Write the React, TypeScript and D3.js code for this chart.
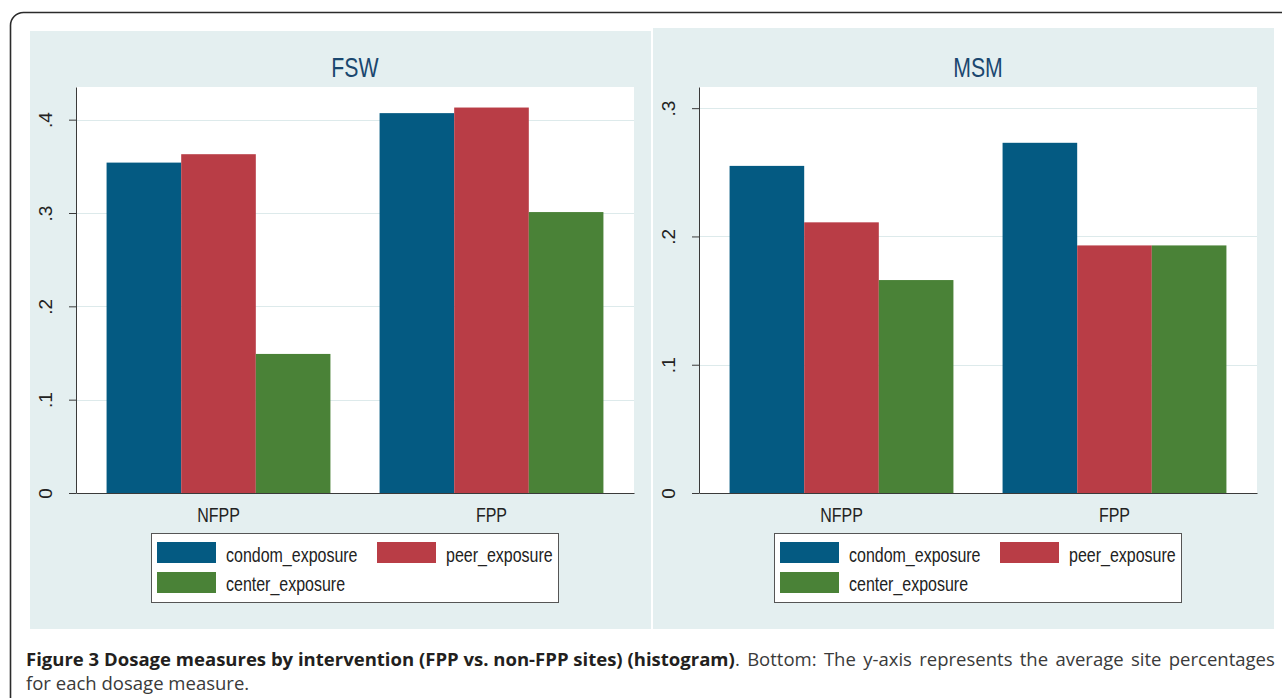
import React, { useEffect, useRef } from "react";
import * as d3 from "d3";

const groups = ["NFPP", "FPP"];
const seriesNames = ["condom_exposure", "peer_exposure", "center_exposure"];
const seriesColors = ["#045a82", "#b93d46", "#4a8237"];

// values (share of sites)
const fswCondom = [0.354, 0.407];
const fswPeer = [0.363, 0.413];
const fswCenter = [0.149, 0.301];
const msmCondom = [0.255, 0.273];
const msmPeer = [0.211, 0.193];
const msmCenter = [0.166, 0.193];

const fswTicks = [0, 0.1, 0.2, 0.3, 0.4];
const fswTickLabels = ["0", ".1", ".2", ".3", ".4"];
const msmTicks = [0, 0.1, 0.2, 0.3];
const msmTickLabels = ["0", ".1", ".2", ".3"];

const captionBold =
  "Figure 3 Dosage measures by intervention (FPP vs. non-FPP sites) (histogram)";
const captionRest =
  ". Bottom: The y-axis represents the average site percentages";
const captionLine2 = "for each dosage measure.";

interface IPanel {
  title: string;
  values: number[][];
  ticks: number[];
  tickLabels: string[];
  yMax: number;
  bg: [number, number, number, number];
  plot: [number, number, number, number];
}

const panels: IPanel[] = [
  {
    title: "FSW",
    values: [fswCondom, fswPeer, fswCenter],
    ticks: fswTicks,
    tickLabels: fswTickLabels,
    yMax: 0.435,
    bg: [30, 31, 651, 629],
    plot: [76, 87, 634, 493],
  },
  {
    title: "MSM",
    values: [msmCondom, msmPeer, msmCenter],
    ticks: msmTicks,
    tickLabels: msmTickLabels,
    yMax: 0.3165,
    bg: [653, 28, 1274, 629],
    plot: [699, 87, 1257, 493],
  },
];

const FONT = "'Liberation Sans', Arial, sans-serif";
const NARROW = 0.78;
const LABEL_SIZE = 20.5;

function App() {
  const ref = useRef<SVGSVGElement | null>(null);

  useEffect(() => {
    const svg = d3.select(ref.current);
    svg.selectAll("*").remove();

    // outer frame, runs off the right and bottom edges
    svg
      .append("rect")
      .attr("x", 10.5)
      .attr("y", 12.5)
      .attr("width", 1400)
      .attr("height", 800)
      .attr("rx", 13)
      .attr("fill", "white")
      .attr("stroke", "#2b2b2b")
      .attr("stroke-width", 1.6);

    panels.forEach((p) => {
      const [bx0, by0, bx1, by1] = p.bg;
      const [pl, pt, pr, pb] = p.plot;
      const g = svg.append("g");

      g.append("rect")
        .attr("x", bx0)
        .attr("y", by0)
        .attr("width", bx1 - bx0)
        .attr("height", by1 - by0)
        .attr("fill", "#e4eff0");

      g.append("rect")
        .attr("x", pl)
        .attr("y", pt)
        .attr("width", pr - pl)
        .attr("height", pb - pt)
        .attr("fill", "white");

      const x0 = d3
        .scaleBand()
        .domain(groups)
        .range([pl, pr])
        .paddingInner(0.18)
        .paddingOuter(0.112);
      const x1 = d3
        .scaleBand()
        .domain(seriesNames)
        .range([0, x0.bandwidth()]);
      const y = d3.scaleLinear().domain([0, p.yMax]).range([pb, pt]);

      // grid
      p.ticks
        .filter((t) => t > 0)
        .forEach((t) =>
          g
            .append("line")
            .attr("x1", pl)
            .attr("x2", pr)
            .attr("y1", Math.round(y(t)) + 0.5)
            .attr("y2", Math.round(y(t)) + 0.5)
            .attr("stroke", "#ddeaeb")
            .attr("stroke-width", 1.2)
        );

      // bars
      seriesNames.forEach((s, si) => {
        groups.forEach((grp, gi) => {
          const v = p.values[si][gi];
          g.append("rect")
            .attr("x", (x0(grp) as number) + (x1(s) as number))
            .attr("y", y(v))
            .attr("width", x1.bandwidth())
            .attr("height", pb - y(v))
            .attr("fill", seriesColors[si]);
        });
      });

      // title
      g.append("text")
        .attr("transform", `translate(${(pl + pr) / 2},77) scale(0.76,1)`)
        .attr("text-anchor", "middle")
        .attr("font-family", FONT)
        .attr("font-size", 28)
        .attr("fill", "#1a476f")
        .text(p.title);

      // y axis
      const yAxis = g
        .append("g")
        .attr("transform", `translate(${pl},0)`)
        .call(
          d3
            .axisLeft(y)
            .tickValues(p.ticks)
            .tickFormat((_d, i) => p.tickLabels[i])
            .tickSize(7)
            .tickSizeOuter(0)
        );
      yAxis.select(".domain").attr("stroke", "#3a3a3a");
      yAxis.selectAll(".tick line").attr("stroke", "#3a3a3a");
      yAxis
        .selectAll(".tick text")
        .attr("x", null)
        .attr("dy", null)
        .attr("text-anchor", "middle")
        .attr("transform", "translate(-24,0) rotate(-90)")
        .attr("font-family", FONT)
        .attr("font-size", 19)
        .attr("fill", "#222");

      // x axis
      const xAxis = g
        .append("g")
        .attr("transform", `translate(0,${pb})`)
        .call(d3.axisBottom(x0).tickSize(0).tickSizeOuter(0));
      xAxis.select(".domain").attr("stroke", "#3a3a3a");
      xAxis
        .selectAll(".tick text")
        .attr("y", null)
        .attr("dy", null)
        .attr("transform", `translate(0,29) scale(${NARROW},1)`)
        .attr("font-family", FONT)
        .attr("font-size", LABEL_SIZE)
        .attr("fill", "#222");

      // legend
      const lx = pl + 75;
      const lg = g.append("g");
      lg.append("rect")
        .attr("x", lx + 0.5)
        .attr("y", 533.5)
        .attr("width", 407)
        .attr("height", 69)
        .attr("fill", "white")
        .attr("stroke", "#555")
        .attr("stroke-width", 1);
      seriesNames.forEach((s, si) => {
        const col = si % 2;
        const row = Math.floor(si / 2);
        const sx = lx + 6 + col * 220;
        lg.append("rect")
          .attr("x", sx)
          .attr("y", 542 + row * 30)
          .attr("width", 59)
          .attr("height", 21)
          .attr("fill", seriesColors[si]);
        lg.append("text")
          .attr(
            "transform",
            `translate(${sx + 69},${561.5 + row * 29.5}) scale(${NARROW},1)`
          )
          .attr("font-family", FONT)
          .attr("font-size", LABEL_SIZE)
          .attr("fill", "#222")
          .text(s);
      });
    });

    // caption, justified on the first line
    const capX = 26;
    const capRight = 1275;
    const boldEnd = 735;
    const line1 = 666;
    const line2 = 690;
    const cap = svg.append("g").attr("font-family", "'Open Sans', sans-serif");
    const b = cap
      .append("text")
      .attr("font-size", 17.5)
      .attr("font-weight", "bold")
      .attr("fill", "#231f20")
      .text(captionBold);
    const bw = (b.node() as SVGTextElement).getComputedTextLength();
    const sx = (boldEnd - capX) / bw;
    b.attr("transform", `translate(${capX},${line1}) scale(${sx},1)`);

    const r = cap
      .append("text")
      .attr("font-size", 17.5)
      .attr("fill", "#3a3a3a")
      .text(captionRest);
    const rw = (r.node() as SVGTextElement).getComputedTextLength();
    const spaces = captionRest.split(" ").length - 1;
    const target = (capRight - boldEnd) / sx;
    r.attr("word-spacing", (target - rw) / spaces).attr(
      "transform",
      `translate(${boldEnd},${line1}) scale(${sx},1)`
    );

    cap
      .append("text")
      .attr("font-size", 17.5)
      .attr("fill", "#3a3a3a")
      .attr("transform", `translate(${capX},${line2}) scale(${sx},1)`)
      .text(captionLine2);

    return () => {
      svg.selectAll("*").remove();
    };
  }, []);

  return (
    <svg
      ref={ref}
      width={1282}
      height={698}
      style={{ position: "absolute", left: 0, top: 0, display: "block" }}
    />
  );
}

export default App;
